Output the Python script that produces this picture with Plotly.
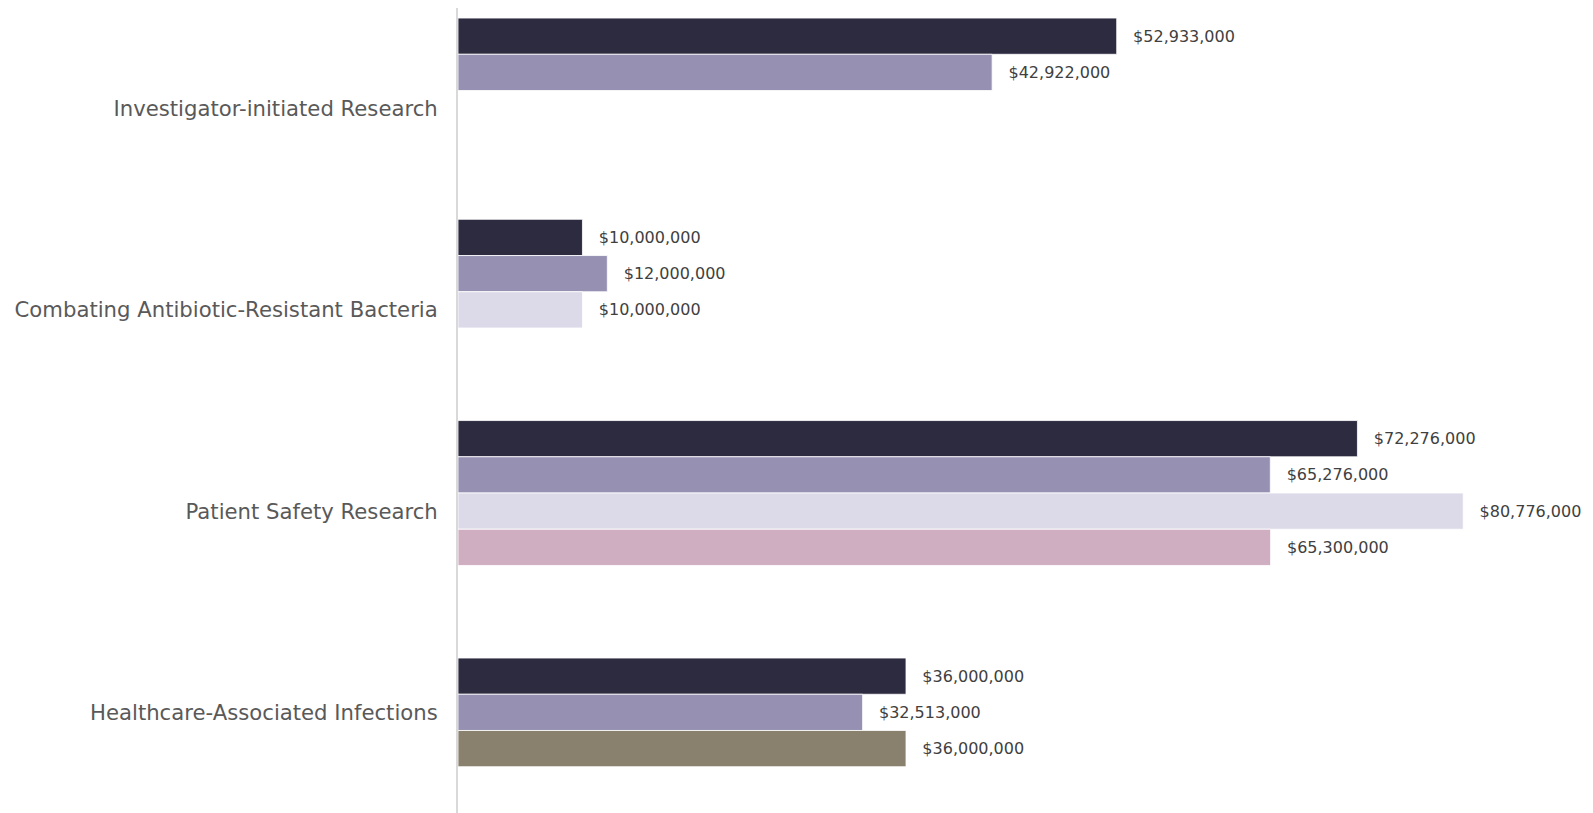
import plotly.graph_objects as go

categories = [
    "Investigator-initiated Research",
    "Combating Antibiotic-Resistant Bacteria",
    "Patient Safety Research",
    "Healthcare-Associated Infections",
]

# values by bar slot within each category group (top to bottom)
slot1 = [52933000, 10000000, 72276000, None]
slot2 = [42922000, 12000000, 65276000, 36000000]
slot3 = [None, 10000000, 80776000, 32513000]
slot4 = [None, None, 65300000, 36000000]
slot5 = [None, None, None, None]

NAVY, PURPLE, LAV, PINK, TAUPE = "#2d2b40", "#9691b3", "#dcdae8", "#d0aec2", "#89806d"
slot_colors = [
    [NAVY, NAVY, NAVY, NAVY],
    [PURPLE, PURPLE, PURPLE, NAVY],
    [LAV, LAV, LAV, PURPLE],
    [PINK, PINK, PINK, TAUPE],
    [NAVY, NAVY, NAVY, NAVY],
]

fig = go.Figure()
for i, vals in enumerate([slot1, slot2, slot3, slot4, slot5]):
    fig.add_trace(go.Bar(
        y=categories, x=vals, orientation="h",
        marker=dict(color=slot_colors[i], line=dict(color="white", width=0.8)),
        texttemplate="\u00a0\u00a0\u2009$%{x:,.0f}",
        textposition="outside",
        textfont=dict(family="DejaVu Sans", size=16, color="#404040"),
        cliponaxis=False,
        constraintext="none",
        showlegend=False,
    ))

fig.update_layout(
    width=1585, height=805,
    barmode="group", bargap=0.1, bargroupgap=0,
    plot_bgcolor="white", paper_bgcolor="white",
    margin=dict(l=450, r=15, t=0, b=0, autoexpand=False),
    font=dict(family="DejaVu Sans"),
)
fig.update_xaxes(range=[0, 90e6], visible=False, showgrid=False, zeroline=False)
fig.update_yaxes(
    autorange="reversed", showline=True, linecolor="#d9d9d9", linewidth=2,
    ticks="", showgrid=False, ticklabelstandoff=14,
    tickfont=dict(family="DejaVu Sans", size=21.2, color="#595959"),
)

fig.write_html("out.html")
